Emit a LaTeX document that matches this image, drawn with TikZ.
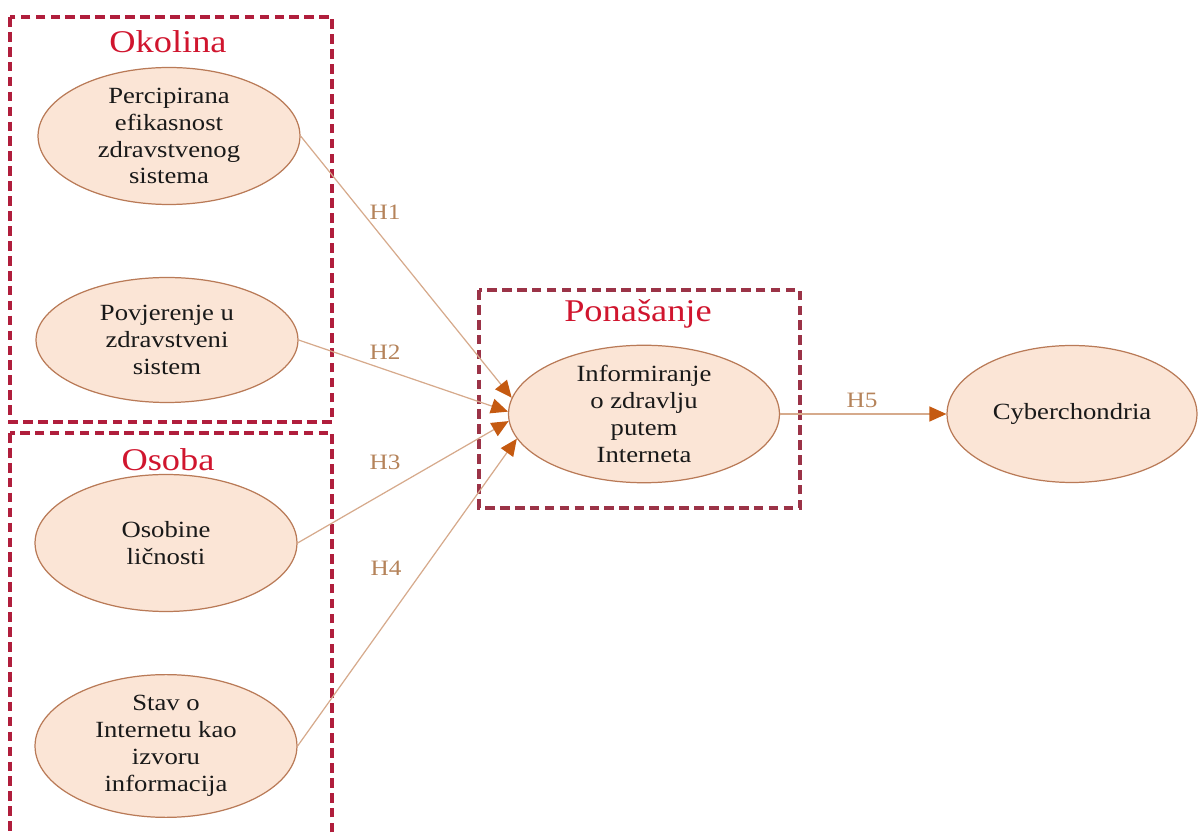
\documentclass[tikz,border=0pt]{standalone}
\usepackage{fontspec}
\setmainfont[FakeStretch=1.15]{Liberation Serif}
\usetikzlibrary{shapes.geometric, arrows.meta}

\definecolor{boxred}{HTML}{B01E3C}
\definecolor{boxmaroon}{HTML}{9B3347}
\definecolor{titlered}{HTML}{D0152E}
\definecolor{ellfill}{HTML}{FBE5D6}
\definecolor{ellline}{HTML}{B97A57}
\definecolor{linebrown}{HTML}{D6AA8C}
\definecolor{tiporange}{HTML}{C55A11}
\definecolor{labbrown}{HTML}{B5835A}

\begin{document}
\begin{tikzpicture}[x=0.02cm, y=-0.02cm,
    factor/.style={ellipse, draw=ellline, line width=0.7pt, fill=ellfill,
        minimum width=5.24cm, minimum height=2.74cm, inner sep=0pt,
        align=center, text=black!90, font=\fontsize{13.2}{15.3}\selectfont},
    group/.style={line width=1.8pt, dash pattern=on 5.5pt off 3pt},
    grouptitle/.style={text=titlered, font=\fontsize{18}{21}\selectfont},
    link/.style={draw=linebrown, line width=0.7pt,
        -{Triangle[length=0.34cm, width=0.3cm, color=tiporange]}},
    hyp/.style={text=labbrown, font=\fontsize{12.5}{15}\selectfont}]
    \useasboundingbox (0, 0) rectangle (1198, 834);

    % groups
    \draw[group, draw=boxred] (10, 17) rectangle (332, 422);
    \draw[group, draw=boxred] (10, 433) rectangle (332, 860);
    \draw[group, draw=boxmaroon] (479, 290) rectangle (800, 508);
    \node[grouptitle] (okolina) at (168, 42) {Okolina};
    \node[grouptitle] (osoba) at (168, 460) {Osoba};
    \node[grouptitle] (ponasanje) at (638, 314) {Ponašanje};

    % factors
    \node[factor] (efik) at (169, 136)
        {Percipirana\\efikasnost\\zdravstvenog\\sistema};
    \node[factor, minimum height=2.5cm] (povj) at (167, 340)
        {Povjerenje u\\zdravstveni\\sistem};
    \node[factor] (osob) at (166, 543) {Osobine\\ličnosti};
    \node[factor] (stav) at (166, 746)
        {Stav o\\Internetu kao\\izvoru\\informacija};
    \node[factor, minimum width=5.42cm] (info) at (644, 414)
        {Informiranje\\o zdravlju\\putem\\Interneta};
    \node[factor, minimum width=5cm] (cyber) at (1072, 414) {Cyberchondria};

    % hypotheses
    \foreach \src/\ang/\lab/\lx/\ly in
        {efik/173/H1/385/212, povj/179/H2/385/352,
         osob/183/H3/385/462, stav/191/H4/386/568}{
        \draw[link] (\src.east) -- (info.\ang);
        \node[hyp] (\lab) at (\lx, \ly) {\lab};
    }
    \draw[link] (info.east) -- (cyber.west);
    \node[hyp] (H5) at (862, 400) {H5};
\end{tikzpicture}
\end{document}
